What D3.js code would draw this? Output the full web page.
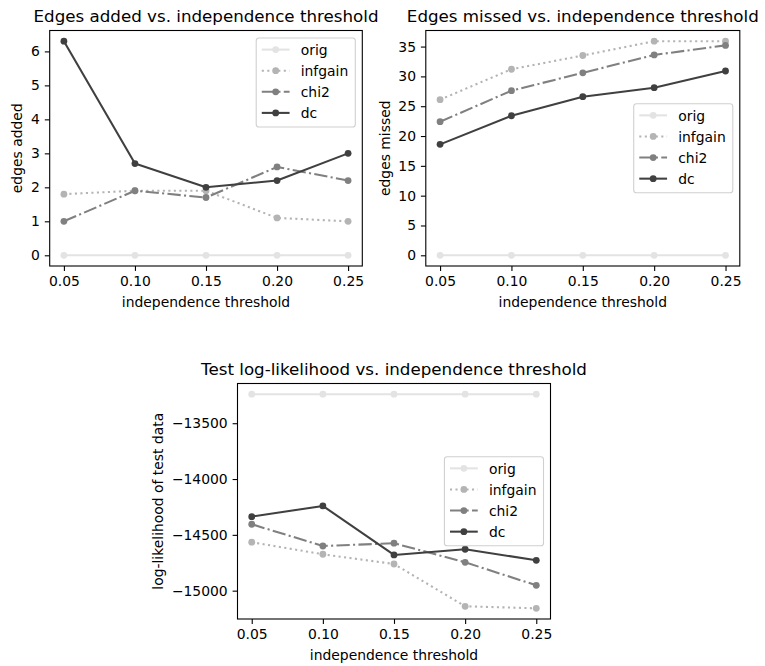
<!DOCTYPE html>
<html><head><meta charset="utf-8">
<script src="https://cdn.jsdelivr.net/npm/d3@7"></script>
<style>
body{margin:0;background:#fff;}
svg{display:block;}
text{font-family:"DejaVu Sans",sans-serif;fill:#000;}
</style></head>
<body><svg id="chart" width="765" height="666"></svg>
<script>
// ---- data ----
const thresholds = [0.05, 0.10, 0.15, 0.20, 0.25];
const seriesNames = ["orig", "infgain", "chi2", "dc"];

const addedOrig    = [0, 0, 0, 0, 0];
const addedInfgain = [1.8, 1.9, 1.9, 1.1, 1.0];
const addedChi2    = [1.0, 1.9, 1.7, 2.6, 2.2];
const addedDc      = [6.3, 2.7, 2.0, 2.2, 3.0];

const missedOrig    = [0, 0, 0, 0, 0];
const missedInfgain = [26.1, 31.2, 33.5, 35.9, 35.9];
const missedChi2    = [22.4, 27.6, 30.6, 33.6, 35.2];
const missedDc      = [18.6, 23.4, 26.6, 28.1, 30.9];

const llOrig    = [-13240, -13240, -13240, -13240, -13240];
const llInfgain = [-14566, -14674, -14761, -15140, -15158];
const llChi2    = [-14405, -14600, -14575, -14746, -14952];
const llDc      = [-14337, -14241, -14680, -14629, -14728];

const xTicks      = [0.05, 0.10, 0.15, 0.20, 0.25];
const addedTicks  = [0, 1, 2, 3, 4, 5, 6];
const missedTicks = [0, 5, 10, 15, 20, 25, 30, 35];
const llTicks     = [-15000, -14500, -14000, -13500];

// ---- styles ----
const seriesStyle = {
  orig:    {color: "#e3e3e3", dash: null},
  infgain: {color: "#b4b4b4", dash: "2.1,3.4"},
  chi2:    {color: "#808080", dash: "13.3,3.3,2.1,3.3"},
  dc:      {color: "#404040", dash: null}
};
const FS = 13.9, TFS = 16.7, TICK = 4.9, PAD = 4.9, LW = 2.08, MR = 3.4;

const svg = d3.select("#chart");
svg.append("rect").attr("width", 765).attr("height", 666).attr("fill", "#fff");

function panel(cfg) {
  const {left, top, width, height} = cfg;
  const g = svg.append("g").attr("transform", `translate(${left},${top})`);
  const x = d3.scaleLinear().domain([0.04, 0.26]).range([0, width]);
  const all = cfg.series.flat();
  let lo = d3.min(all), hi = d3.max(all);
  const m = (hi - lo) * 0.05;
  const y = d3.scaleLinear().domain([lo - m, hi + m]).range([height, 0]);

  // axes
  const xa = g.append("g").attr("transform", `translate(0,${height})`)
    .call(d3.axisBottom(x).tickValues(xTicks).tickFormat(d3.format(".2f"))
      .tickSizeInner(TICK).tickSizeOuter(0).tickPadding(PAD));
  const ya = g.append("g")
    .call(d3.axisLeft(y).tickValues(cfg.yTicks).tickFormat(d3.format("d"))
      .tickSizeInner(TICK).tickSizeOuter(0).tickPadding(PAD));
  [xa, ya].forEach(a => {
    a.select(".domain").remove();
    a.selectAll(".tick line").attr("stroke", "#000").attr("stroke-width", 1.1);
    a.selectAll(".tick text").attr("font-size", FS).attr("font-family", "DejaVu Sans").attr("fill", "#000");
  });
  xa.selectAll(".tick text").attr("dy", "0.76em");

  // series
  const line = d3.line().x((d, i) => x(thresholds[i])).y(d => y(d));
  cfg.series.forEach((vals, si) => {
    const st = seriesStyle[seriesNames[si]];
    g.append("path").datum(vals).attr("d", line)
      .attr("fill", "none").attr("stroke", st.color).attr("stroke-width", LW)
      .attr("stroke-dasharray", st.dash).attr("stroke-linejoin", "round");
    g.selectAll(null).data(vals).enter().append("circle")
      .attr("cx", (d, i) => x(thresholds[i])).attr("cy", d => y(d))
      .attr("r", MR).attr("fill", st.color);
  });

  // frame
  g.append("rect").attr("width", width).attr("height", height)
    .attr("fill", "none").attr("stroke", "#000").attr("stroke-width", 1.1);

  // title
  g.append("text").attr("x", width / 2).attr("y", -8.5)
    .attr("text-anchor", "middle").attr("font-size", TFS).text(cfg.title);
  // x label
  g.append("text").attr("x", width / 2).attr("y", height + 40.5)
    .attr("text-anchor", "middle").attr("font-size", FS).text("independence threshold");
  // y label
  let maxW = 0;
  ya.selectAll(".tick text").each(function () { maxW = Math.max(maxW, this.getComputedTextLength()); });
  const yl = -(TICK + PAD + maxW + 5.6 + 3.0);
  g.append("text").attr("transform", `translate(${yl},${height / 2}) rotate(-90)`)
    .attr("text-anchor", "middle").attr("font-size", FS).text(cfg.ylabel);

  // legend
  const lg = g.append("g");
  const bp = 0.4 * FS, hl = 2.0 * FS, htp = 0.8 * FS, sp = 21.1, lh = 89;
  const texts = [];
  seriesNames.forEach((n, i) => {
    texts.push(lg.append("text").attr("font-size", FS).text(n));
  });
  let tw = 0;
  texts.forEach(t => tw = Math.max(tw, t.node().getComputedTextLength()));
  const lw = bp + hl + htp + tw + bp + 1.5;
  const lx = width - 7 - lw;
  const ly = cfg.legend === "upper right" ? 7.5 : height / 2 - lh / 2;
  lg.insert("rect", ":first-child").attr("x", lx).attr("y", ly).attr("width", lw).attr("height", lh)
    .attr("rx", 2.8).attr("fill", "#fff").attr("fill-opacity", 0.8)
    .attr("stroke", "#d0d0d0").attr("stroke-width", 1.1);
  seriesNames.forEach((n, i) => {
    const st = seriesStyle[n];
    const cy = ly + 11.6 + i * sp;
    const hx0 = lx + bp, hx1 = hx0 + hl;
    lg.insert("line", "text").attr("x1", hx0).attr("x2", hx1).attr("y1", cy).attr("y2", cy)
      .attr("stroke", st.color).attr("stroke-width", LW).attr("stroke-dasharray", st.dash);
    lg.insert("circle", "text").attr("cx", (hx0 + hx1) / 2).attr("cy", cy).attr("r", MR).attr("fill", st.color);
    texts[i].attr("x", hx1 + htp).attr("y", cy + 5.2);
  });
}

panel({left: 49.7, top: 30.5, width: 312.6, height: 235.5,
  title: "Edges added vs. independence threshold", ylabel: "edges added",
  yTicks: addedTicks, series: [addedOrig, addedInfgain, addedChi2, addedDc], legend: "upper right"});
panel({left: 425.8, top: 30.5, width: 314, height: 235.5,
  title: "Edges missed vs. independence threshold", ylabel: "edges missed",
  yTicks: missedTicks, series: [missedOrig, missedInfgain, missedChi2, missedDc], legend: "center right"});
panel({left: 237.5, top: 383.5, width: 313, height: 235.5,
  title: "Test log-likelihood vs. independence threshold", ylabel: "log-likelihood of test data",
  yTicks: llTicks, series: [llOrig, llInfgain, llChi2, llDc], legend: "center right"});
</script>
</body></html>
